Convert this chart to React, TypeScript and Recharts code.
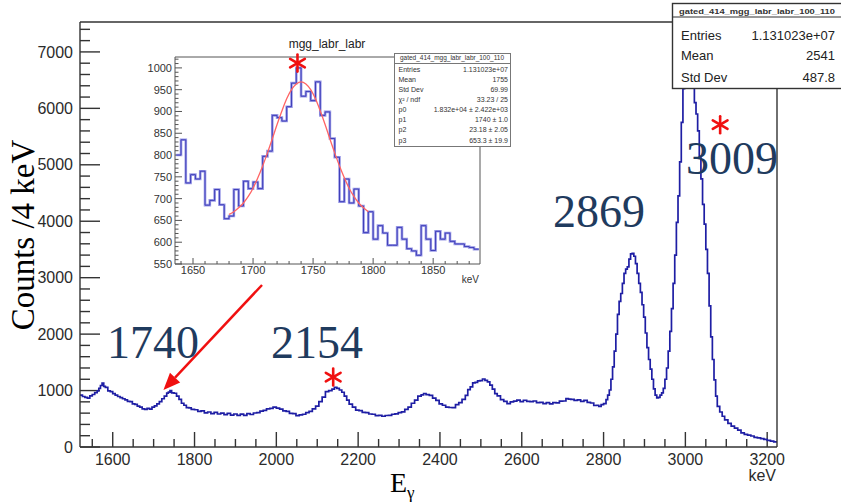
import React from "react";
import { LineChart, Line, XAxis, YAxis, ReferenceLine, ReferenceDot } from "recharts";

// main spectrum (keV, counts / 4 keV)
const energyKeV = [
  1520, 1526, 1532, 1538, 1544, 1550, 1556, 1562, 1566, 1570, 1574, 1578, 1582, 1588, 1594, 1600,
  1606, 1612, 1618, 1624, 1630, 1636, 1642, 1648, 1654, 1660, 1666, 1672, 1678, 1684, 1690, 1696,
  1702, 1708, 1714, 1720, 1726, 1732, 1736, 1740, 1744, 1750, 1756, 1762, 1768, 1774, 1780, 1786,
  1792, 1800, 1808, 1816, 1824, 1832, 1840, 1848, 1856, 1864, 1872, 1880, 1888, 1896, 1904, 1912,
  1920, 1928, 1936, 1944, 1952, 1960, 1968, 1976, 1984, 1992, 2000, 2008, 2016, 2024, 2032, 2040,
  2048, 2056, 2064, 2072, 2080, 2088, 2096, 2104, 2112, 2120, 2128, 2136, 2142, 2148, 2154, 2160,
  2166, 2172, 2178, 2186, 2194, 2202, 2210, 2218, 2226, 2234, 2242, 2250, 2258, 2266, 2274, 2282,
  2290, 2298, 2306, 2314, 2322, 2330, 2338, 2346, 2354, 2360, 2366, 2374, 2382, 2390, 2398, 2406,
  2414, 2422, 2430, 2438, 2446, 2454, 2462, 2468, 2474, 2480, 2486, 2492, 2498, 2504, 2510, 2516,
  2522, 2528, 2534, 2540, 2548, 2556, 2564, 2572, 2580, 2588, 2596, 2604, 2612, 2620, 2628, 2636,
  2644, 2652, 2660, 2668, 2676, 2684, 2692, 2700, 2708, 2714, 2720, 2728, 2736, 2744, 2752, 2760,
  2768, 2776, 2782, 2788, 2794, 2800, 2806, 2810, 2814, 2818, 2822, 2826, 2830, 2834, 2838, 2842,
  2846, 2850, 2854, 2858, 2862, 2866, 2870, 2874, 2878, 2882, 2886, 2890, 2894, 2898, 2902, 2906,
  2910, 2914, 2918, 2922, 2926, 2930, 2934, 2938, 2942, 2946, 2950, 2954, 2958, 2962, 2966, 2970,
  2974, 2978, 2982, 2986, 2990, 2994, 2998, 3002, 3006, 3010, 3014, 3018, 3022, 3026, 3030, 3034,
  3038, 3042, 3046, 3050, 3054, 3058, 3062, 3066, 3070, 3074, 3078, 3084, 3090, 3096, 3104, 3112,
  3120, 3128, 3136, 3144, 3152, 3160, 3168, 3176, 3184, 3192, 3200, 3208, 3216, 3224,
];
const countsPer4keV = [
  920, 895, 880, 865, 905, 930, 965, 995, 1040, 1090, 1130, 1075, 1055, 995, 980, 945,
  920, 895, 875, 855, 835, 810, 805, 765, 755, 725, 705, 675, 668, 684, 672, 708,
  728, 765, 805, 855, 900, 955, 972, 998, 958, 952, 900, 845, 775, 740, 696, 692,
  668, 660, 632, 640, 606, 620, 590, 612, 585, 600, 572, 595, 565, 585, 560, 583,
  562, 590, 576, 602, 608, 636, 650, 676, 686, 708, 688, 672, 640, 630, 596, 590,
  556, 570, 580, 610, 630, 676, 725, 805, 885, 980, 1000, 1025, 1055, 1040, 1010, 970,
  900, 830, 760, 705, 655, 645, 615, 610, 585, 580, 556, 562, 545, 558, 562, 580,
  586, 610, 622, 665, 705, 775, 830, 900, 925, 948, 928, 915, 866, 825, 765, 740,
  706, 700, 696, 750, 785, 845, 915, 1015, 1065, 1135, 1145, 1170, 1175, 1205, 1180, 1155,
  1095, 1025, 945, 905, 840, 810, 770, 800, 812, 830, 805, 828, 810, 805, 815, 785,
  790, 770, 785, 765, 785, 782, 812, 815, 856, 850, 845, 826, 835, 808, 826, 790,
  780, 735, 740, 720, 752, 770, 840, 920, 1010, 1200, 1420, 1700, 2000, 2350, 2580, 2720,
  2900, 3075, 3150, 3190, 3330, 3420, 3430, 3380, 3250, 3075, 2900, 2740, 2520, 2300, 2020, 1760,
  1550, 1380, 1200, 1030, 920, 870, 880, 920, 960, 1040, 1200, 1400, 1700, 2050, 2450, 2900,
  3400, 3980, 4450, 5050, 5750, 6350, 6800, 7050, 7200, 7150, 6850, 6400, 6100, 5900, 5600, 5150,
  4750, 4300, 3950, 3500, 3075, 2500, 1950, 1550, 1190, 900, 720, 620, 545, 480, 420, 370,
  335, 300, 250, 225, 212, 195, 170, 160, 150, 135, 118, 105, 92, 82,
];

// inset: 4 keV bins, low edges, plus the closing edge
const insetBinEdges = [
  1636, 1640, 1644, 1648, 1652, 1656, 1660, 1664, 1668, 1672, 1676, 1680, 1684, 1688, 1692, 1696,
  1700, 1704, 1708, 1712, 1716, 1720, 1724, 1728, 1732, 1736, 1740, 1744, 1748, 1752, 1756, 1760,
  1764, 1768, 1772, 1776, 1780, 1784, 1788, 1792, 1796, 1800, 1804, 1808, 1812, 1816, 1820, 1824,
  1828, 1832, 1836, 1840, 1844, 1848, 1852, 1856, 1860, 1864, 1868, 1872, 1876, 1880, 1884, 1888,
];
const insetCounts = [
  800, 835, 736, 755, 745, 763, 685, 696, 721, 686, 654, 660, 721, 683, 740, 723,
  738, 723, 797, 809, 891, 886, 878, 911, 965, 1000, 935, 946, 925, 968, 891, 899,
  838, 795, 693, 745, 690, 722, 683, 622, 670, 607, 638, 621, 593, 593, 634, 607,
  585, 580, 570, 638, 607, 581, 625, 607, 621, 602, 596, 596, 590, 588, 584,
];

// red fit curve as drawn in the inset
const fitEnergy = [
  1680, 1684, 1688, 1692, 1696, 1700, 1704, 1708, 1712, 1716, 1720, 1724, 1728, 1732, 1736, 1740,
  1744, 1748, 1752, 1756, 1760, 1764, 1768, 1772, 1776, 1780, 1784, 1788, 1792, 1796,
];
const fitCounts = [
  664, 670, 679, 690, 705, 724, 748, 775, 805, 837, 870, 901, 929, 950, 963, 968,
  963, 950, 929, 901, 870, 837, 805, 775, 748, 724, 705, 690, 679, 670,
];

const mainXTicks = [1600, 1800, 2000, 2200, 2400, 2600, 2800, 3000, 3200];
const mainYTicks = [0, 1000, 2000, 3000, 4000, 5000, 6000, 7000];
const insetXTicks = [1650, 1700, 1750, 1800, 1850];
const insetYTicks = [550, 600, 650, 700, 750, 800, 850, 900, 950, 1000];

// peaks marked with a red asterisk (keV, counts where the mark sits)
const mainMarks = [
  { e: 2139, c: 1240 },
  { e: 3085, c: 5710 },
];
const insetMark = { e: 1737, c: 1011 };

const histName = "gated_414_mgg_labr_labr_100_110";
const mainStatLabels = ["Entries", "Mean", "Std Dev"];
const mainStatValues = ["1.131023e+07", "2541", "487.8"];
const insetStatLabels = ["Entries", "Mean", "Std Dev", "χ² / ndf", "p0", "p1", "p2", "p3"];
const insetStatValues = [
  "1.131023e+07", "1755", "69.99", "33.23 / 25",
  "1.832e+04 ± 2.422e+03", "1740 ± 1.0", "23.18 ± 2.05", "653.3 ± 19.9",
];

const peakLabels = [
  { text: "1740", x: 107, y: 358 },
  { text: "2154", x: 271, y: 358 },
  { text: "2869", x: 553, y: 227 },
  { text: "3009", x: 686, y: 174 },
];

const range = (a: number, b: number, s: number) => {
  const out: number[] = [];
  for (let v = a; v <= b + 1e-9; v += s) out.push(v);
  return out;
};

const SANS = "'Liberation Sans', Arial, sans-serif";
const SERIF = "'Liberation Serif', 'Times New Roman', serif";
const AX = "#333";
const RED = "#f01010";

const mainData = energyKeV.map((e, i) => ({ e, c: countsPer4keV[i] }));
const insetData = insetBinEdges.map((e, i) => ({ e, c: insetCounts[Math.min(i, insetCounts.length - 1)] }));
const fitData = fitEnergy.map((e, i) => ({ e, c: fitCounts[i] }));

const XDOM: [number, number] = [1520, 3224];
const YDOM: [number, number] = [0, 7530];
const IXDOM: [number, number] = [1635, 1889];
const IYDOM: [number, number] = [550, 1025];

// ROOT style ticks: short strokes pointing into the frame
const xTick = (len: number, color: string, w: number) => (p: any) => {
  const yb = Math.max(p.y1, p.y2);
  return <line x1={p.x1} x2={p.x1} y1={yb} y2={yb - len} stroke={color} strokeWidth={w} />;
};
const yTick = (len: number, color: string, w: number) => (p: any) => {
  const xl = Math.min(p.x1, p.x2);
  return <line x1={xl} x2={xl + len} y1={p.y1} y2={p.y1} stroke={color} strokeWidth={w} />;
};

const Arrow = (p: any) => {
  const { x1, y1, x2, y2 } = p;
  const a = Math.atan2(y2 - y1, x2 - x1);
  const L = 17;
  const W = 7;
  const bx = x2 - L * Math.cos(a);
  const by = y2 - L * Math.sin(a);
  const px = -Math.sin(a) * W;
  const py = Math.cos(a) * W;
  return (
    <g>
      <line x1={x1} y1={y1} x2={bx} y2={by} stroke={RED} strokeWidth={2.4} />
      <polygon points={`${x2},${y2} ${bx + px},${by + py} ${bx - px},${by - py}`} fill={RED} />
    </g>
  );
};

const Asterisk = (p: any) => {
  const { cx, cy } = p;
  const r = 8.5;
  const petals = [90, 30, -30, -90, -150, 150].map((deg) => {
    const a = (deg * Math.PI) / 180;
    const ex = cx + r * Math.cos(a);
    const ey = cy - r * Math.sin(a);
    return <line key={deg} x1={cx} y1={cy} x2={ex} y2={ey} stroke={RED} strokeWidth={2.6} strokeLinecap="round" />;
  });
  return <g>{petals}</g>;
};

function MainChart() {
  const line = { stroke: AX, strokeWidth: 1.4 };
  return (
    <LineChart width={841} height={502} data={mainData} margin={{ top: 22, right: 64, bottom: 0, left: 0 }}>
      <XAxis xAxisId="x" dataKey="e" type="number" domain={XDOM} allowDataOverflow ticks={mainXTicks}
        interval={0} height={55} tickSize={0} tickMargin={7} axisLine={line} tickLine={false}
        tick={{ fill: "#2b2b2b", fontSize: 16, fontFamily: SANS }} />
      <XAxis xAxisId="xt" orientation="top" mirror type="number" domain={XDOM} tick={false}
        tickLine={false} axisLine={line} />
      <YAxis yAxisId="y" type="number" domain={YDOM} allowDataOverflow ticks={mainYTicks} interval={0}
        width={80} tickSize={0} tickMargin={7} axisLine={line} tickLine={false}
        tick={{ fill: "#2b2b2b", fontSize: 16, fontFamily: SANS }} />
      <YAxis yAxisId="yr" orientation="right" mirror type="number" domain={YDOM} tick={false}
        tickLine={false} axisLine={line} />
      {range(1550, 3200, 50).map((t) => (
        <ReferenceLine key={`xt${t}`} xAxisId="x" yAxisId="y" x={t}
          shape={xTick(t % 200 === 0 ? 15 : 8, AX, 1.4)} />
      ))}
      {range(0, 7400, 200).map((t) => (
        <ReferenceLine key={`yt${t}`} xAxisId="x" yAxisId="y" y={t}
          shape={yTick(t % 1000 === 0 ? 20 : 10, AX, 1.4)} />
      ))}
      <Line xAxisId="x" yAxisId="y" dataKey="c" type="stepAfter" stroke="#1e1ea4" strokeWidth={1.7}
        dot={false} isAnimationActive={false} />
      <ReferenceLine xAxisId="x" yAxisId="y" segment={[{ x: 1965, y: 2871 }, { x: 1724, y: 1010 }]}
        shape={Arrow} />
      {mainMarks.map((m) => (
        <ReferenceDot key={m.e} xAxisId="x" yAxisId="y" x={m.e} y={m.c} r={8} shape={Asterisk} />
      ))}
    </LineChart>
  );
}

function InsetChart() {
  const line = { stroke: "#555", strokeWidth: 1 };
  return (
    <LineChart width={350} height={270} margin={{ top: 27, right: 10, bottom: 0, left: 0 }}>
      <XAxis xAxisId="x" dataKey="e" type="number" domain={IXDOM} allowDataOverflow ticks={insetXTicks}
        interval={0} height={36} tickSize={0} tickMargin={2} axisLine={line} tickLine={false}
        tick={{ fill: "#333", fontSize: 11, fontFamily: SANS }} />
      <XAxis xAxisId="xt" orientation="top" mirror type="number" domain={IXDOM} tick={false}
        tickLine={false} axisLine={line} />
      <YAxis yAxisId="y" type="number" domain={IYDOM} allowDataOverflow ticks={insetYTicks} interval={0}
        width={35} tickSize={0} tickMargin={3} axisLine={line} tickLine={false}
        tick={{ fill: "#333", fontSize: 11, fontFamily: SANS }} />
      <YAxis yAxisId="yr" orientation="right" mirror type="number" domain={IYDOM} tick={false}
        tickLine={false} axisLine={line} />
      {range(1640, 1880, 10).map((t) => (
        <ReferenceLine key={`ixt${t}`} xAxisId="x" yAxisId="y" x={t}
          shape={xTick(t % 50 === 0 ? 6 : 3, "#555", 1)} />
      ))}
      {range(550, 1020, 10).map((t) => (
        <ReferenceLine key={`iyt${t}`} xAxisId="x" yAxisId="y" y={t}
          shape={yTick(t % 50 === 0 ? 7 : 3.5, "#555", 1)} />
      ))}
      <Line xAxisId="x" yAxisId="y" data={insetData} dataKey="c" type="stepAfter" stroke="#9a9ae6"
        strokeWidth={2.6} dot={false} isAnimationActive={false} />
      <Line xAxisId="x" yAxisId="y" data={insetData} dataKey="c" type="stepAfter" stroke="#3434b4"
        strokeWidth={0.9} dot={false} isAnimationActive={false} />
      <Line xAxisId="x" yAxisId="y" data={fitData} dataKey="c" type="monotone" stroke="#ff6464"
        strokeWidth={1.3} dot={false} isAnimationActive={false} />
      <ReferenceDot xAxisId="x" yAxisId="y" x={insetMark.e} y={insetMark.c} r={8} shape={Asterisk} />
    </LineChart>
  );
}

function Overlay() {
  return (
    <svg width={841} height={502} style={{ position: "absolute", left: 0, top: 0, pointerEvents: "none" }}>
      <text x={34} y={235} transform="rotate(-90 34 235)" textAnchor="middle" fontFamily={SERIF}
        fontSize={33} fill="#000">Counts /4 keV</text>
      <text x={390} y={492} fontFamily={SERIF} fontSize={28} fill="#000">
        E<tspan fontSize={17} dy={6}>γ</tspan>
      </text>
      <text x={776} y={481} textAnchor="end" fontFamily={SANS} fontSize={16} fill="#2b2b2b">keV</text>

      {peakLabels.map((p) => (
        <text key={p.text} x={p.x} y={p.y} fontFamily={SERIF} fontSize={46} fill="#1f3b5e">{p.text}</text>
      ))}

      {/* inset labels */}
      <text x={327} y={48} textAnchor="middle" fontFamily={SANS} fontSize={12} fill="#222">mgg_labr_labr</text>
      <text x={479} y={283} textAnchor="end" fontFamily={SANS} fontSize={10} fill="#333">keV</text>

      {/* inset stats box */}
      <rect x={394.5} y={53.5} width={116} height={93} fill="#fff" stroke="#777" strokeWidth={1} />
      <text x={452} y={59.8} textAnchor="middle" fontFamily={SANS} fontSize={6.8} fill="#333"
        textLength={104} lengthAdjust="spacingAndGlyphs">{histName}</text>
      <line x1={394.5} x2={510.5} y1={63.5} y2={63.5} stroke="#777" strokeWidth={1} />
      {insetStatLabels.map((l, i) => (
        <g key={l}>
          <text x={398.5} y={71.8 + i * 10.1} fontFamily={SANS} fontSize={7} fill="#333">{l}</text>
          <text x={508} y={71.8 + i * 10.1} textAnchor="end" fontFamily={SANS} fontSize={7} fill="#333">
            {insetStatValues[i]}
          </text>
        </g>
      ))}

      {/* main stats box */}
      <rect x={672.5} y={3.5} width={172} height={85} fill="#fff" stroke="#333" strokeWidth={1.4} />
      <text x={757} y={14} textAnchor="middle" fontFamily={SANS} fontSize={8} fontWeight="bold" fill="#333"
        textLength={156} lengthAdjust="spacingAndGlyphs">{histName}</text>
      <line x1={672.5} x2={841} y1={17} y2={17} stroke="#333" strokeWidth={1.2} />
      {mainStatLabels.map((l, i) => (
        <g key={l}>
          <text x={681} y={[39.5, 60, 82][i]} fontFamily={SANS} fontSize={13} fill="#222">{l}</text>
          <text x={835} y={[39.5, 60, 82][i]} textAnchor="end" fontFamily={SANS} fontSize={13} fill="#222">
            {mainStatValues[i]}
          </text>
        </g>
      ))}
    </svg>
  );
}

export default function App() {
  return (
    <div style={{ position: "absolute", left: 0, top: 0, width: 841, height: 502, overflow: "hidden", background: "#fff" }}>
      <MainChart />
      <div style={{ position: "absolute", left: 140, top: 30 }}>
        <InsetChart />
      </div>
      <Overlay />
    </div>
  );
}
